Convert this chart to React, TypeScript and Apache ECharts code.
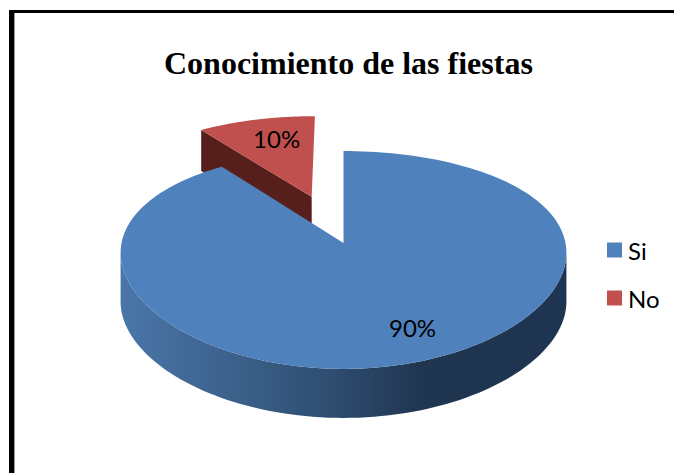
import React, { useEffect, useRef } from "react";
import * as echarts from "echarts";

const titleText = "Conocimiento de las fiestas";
const categories = ["Si", "No"];
const sliceValues = [90, 10];
const explodedBy = [0, 0.49];
const sliceColors = ["#4f81bd", "#c0504d"];

const total = sliceValues.reduce((a, b) => a + b, 0);
const apexX = 343.5, apexY = 243, radiusX = 222, radiusY = 106.3;
const perspY = 0.156;
const perspXBySlice = [0.09, 0.12];
const STEPS = 180;

const project = (index: number, u: number, v: number): number[] => [
  apexX + (radiusX * u) / (1 - perspXBySlice[index] * v),
  apexY + (radiusY * v) / (1 - perspY * v),
];

const renderSlice = (index: number, depth: number, labelDx: number, labelDy: number, labelR: number) => (_p: any, _api: any) => {
  const before = sliceValues.slice(0, index).reduce((a, b) => a + b, 0);
  const a0 = (before / total) * Math.PI * 2;
  const a1 = ((before + sliceValues[index]) / total) * Math.PI * 2;
  const mid = (a0 + a1) / 2;
  const cu = explodedBy[index] * Math.sin(mid);
  const cv = -explodedBy[index] * Math.cos(mid);
  const arc: number[][] = [];
  for (let i = 0; i <= STEPS; i++) {
    const a = a0 + ((a1 - a0) * i) / STEPS;
    arc.push(project(index, cu + Math.sin(a), cv - Math.cos(a)));
  }
  const apex = project(index, cu, cv);
  const children: any[] = [];
  if (index === 0) {
    let l = 0, r = 0;
    arc.forEach((p, i) => {
      if (p[0] < arc[l][0]) l = i;
      if (p[0] > arc[r][0]) r = i;
    });
    const front = arc.slice(r, l + 1);
    const wall = [...front, ...front.slice().reverse().map((p) => [p[0], p[1] + depth])];
    children.push({
      type: "polygon",
      shape: { points: wall },
      style: {
        fill: new echarts.graphic.LinearGradient(0, 0, 1, 0, [
          { offset: 0, color: "#4a76a8" },
          { offset: 0.28, color: "#3a5f88" },
          { offset: 0.5, color: "#2c4a6c" },
          { offset: 0.68, color: "#1f3550" },
          { offset: 1, color: "#1f3450" },
        ]),
      },
    });
  } else {
    const first = arc[0];
    children.push({
      type: "polygon",
      shape: { points: [first, apex, [apex[0], apex[1] + depth], [first[0], first[1] + depth]] },
      style: { fill: "#561f1b" },
    });
  }
  children.push({
    type: "polygon",
    shape: { points: [apex, ...arc] },
    style: { fill: sliceColors[index] },
  });
  const lp = project(index, cu + labelR * Math.sin(mid), cv - labelR * Math.cos(mid));
  children.push({
    type: "text",
    style: {
      text: `${sliceValues[index]}%`,
      x: lp[0] + labelDx,
      y: lp[1] + labelDy,
      textAlign: "center",
      textVerticalAlign: "middle",
      fontFamily: "Lato",
      fontSize: 24,
      fill: "#000",
    },
  });
  return { type: "group", children };
};

export default function App() {
  const ref = useRef<HTMLDivElement>(null);
  useEffect(() => {
    const chart = echarts.init(ref.current!, null, { renderer: "svg" });
    chart.setOption({
      animation: false,
      backgroundColor: "#fff",
      title: {
        text: titleText,
        left: 164,
        top: 47,
        padding: 0,
        textStyle: { fontFamily: "Liberation Serif", fontWeight: "bold", fontSize: 32, color: "#000" },
      },
      legend: {
        data: categories,
        orient: "vertical",
        left: 607,
        top: 238,
        padding: 0,
        itemWidth: 15,
        itemHeight: 15,
        itemGap: 24,
        icon: "rect",
        selectedMode: false,
        textStyle: { fontFamily: "Lato", fontSize: 24, color: "#000", padding: [0, 0, 0, 1] },
      },
      series: [
        { type: "custom", name: categories[1], coordinateSystem: "none", silent: true, data: [[sliceValues[1]]], itemStyle: { color: sliceColors[1] }, renderItem: renderSlice(1, 41, 5, -2, 0.7) },
        { type: "custom", name: categories[0], coordinateSystem: "none", silent: true, data: [[sliceValues[0]]], itemStyle: { color: sliceColors[0] }, renderItem: renderSlice(0, 49, 18, 6, 0.7) },
      ],
      graphic: [
        { type: "rect", silent: true, shape: { x: 9, y: 10, width: 5, height: 463 }, style: { fill: "#000" } },
        { type: "rect", silent: true, shape: { x: 14, y: 13, width: 1, height: 460 }, style: { fill: "#9a9a9a" } },
        { type: "rect", silent: true, shape: { x: 9, y: 10, width: 665, height: 3 }, style: { fill: "#000" } },
      ],
    });
    return () => chart.dispose();
  }, []);
  return <div ref={ref} style={{ position: "fixed", left: 0, top: 0, width: 674, height: 473 }} />;
}
